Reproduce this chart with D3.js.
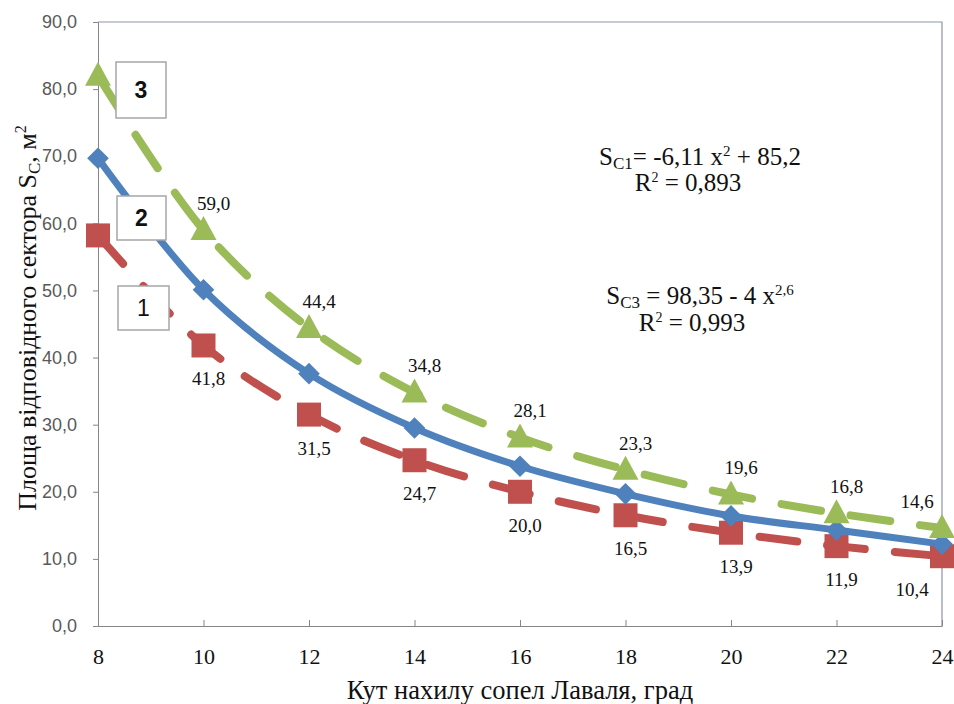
<!DOCTYPE html>
<meta charset="utf-8">
<head>
	<style>
		body { margin: 0; background: #fff; }
		.tick text.ylab { font-family: "Liberation Sans", Arial, sans-serif; font-size: 18px; fill: #595959; }
		.serif { font-family: "Liberation Serif", "Times New Roman", serif; }
	</style>
	<script src="https://cdn.jsdelivr.net/npm/d3@7"></script>
</head>
<body></body>
<script>

	// data
	var angles = [8, 10, 12, 14, 16, 18, 20, 22, 24];
	var series1 = [58.2, 41.8, 31.5, 24.7, 20.0, 16.5, 13.9, 11.9, 10.4];   // red, squares
	var series2 = [69.7, 50.1, 37.6, 29.5, 23.8, 19.7, 16.4, 14.3, 12.2];   // blue, diamonds
	var series3 = [82.0, 59.0, 44.4, 34.8, 28.1, 23.3, 19.6, 16.8, 14.6];   // green, triangles
	var yTicks = [0, 10, 20, 30, 40, 50, 60, 70, 80, 90];
	var xTicks = [8, 10, 12, 14, 16, 18, 20, 22, 24];

	var width = 954,
	    height = 704,
	    margin = {left: 98, right: 12, top: 22, bottom: 78};

	var svg = d3.select("body").append("svg")
		.attr("width", width)
		.attr("height", height);

	var x = d3.scaleLinear().domain([8, 24]).range([margin.left, width - margin.right]);
	var y = d3.scaleLinear().domain([0, 90]).range([height - margin.bottom, margin.top]);

	var fmt = function(v) { return d3.format(".1f")(v).replace(".", ","); };

	// plot border (top + right)
	svg.append("path")
		.attr("d", "M" + x(8) + "," + y(90) + "H" + x(24) + "V" + y(0))
		.attr("fill", "none")
		.attr("stroke", "#8c95a8")
		.attr("stroke-width", 1.2);

	// y axis
	var yAxis = svg.append("g")
		.attr("transform", "translate(" + x(8) + ",0)")
		.call(d3.axisLeft(y).tickValues(yTicks).tickSize(5).tickPadding(16).tickFormat(fmt));
	yAxis.selectAll("line, path").attr("stroke", "#868686");
	yAxis.selectAll("text").attr("class", "ylab").attr("font-size", null).attr("font-family", null);

	// x axis, ticks pointing inward
	var xAxis = svg.append("g")
		.attr("transform", "translate(0," + y(0) + ")")
		.call(d3.axisBottom(x).tickValues(xTicks).tickSizeInner(-6).tickSizeOuter(0).tickPadding(22));
	xAxis.selectAll("line, path").attr("stroke", "#868686");
	xAxis.selectAll("text")
		.attr("class", "serif")
		.attr("font-family", null)
		.attr("font-size", 22)
		.attr("fill", "#111");

	// axis titles
	svg.append("text")
		.attr("class", "serif")
		.attr("x", 520).attr("y", 699)
		.attr("text-anchor", "middle")
		.attr("font-size", 26.5)
		.attr("fill", "#111")
		.text("Кут нахилу сопел Лаваля, град");

	var yt = svg.append("text")
		.attr("class", "serif")
		.attr("transform", "translate(36,318) rotate(-90)")
		.attr("text-anchor", "middle")
		.attr("font-size", 26)
		.attr("fill", "#111");
	yt.append("tspan").text("Площа відповідного сектора S");
	yt.append("tspan").attr("font-size", 17).attr("dy", 4).text("C");
	yt.append("tspan").attr("dy", -4).text(", м");
	yt.append("tspan").attr("font-size", 16).attr("dy", -10).text("2");

	var line = d3.line()
		.x(function(d, i) { return x(angles[i]); })
		.y(function(d) { return y(d); })
		.curve(d3.curveCatmullRom.alpha(0.5));

	// red, series 1
	svg.append("path")
		.datum(series1)
		.attr("d", line)
		.attr("fill", "none")
		.attr("stroke", "#c0504d")
		.attr("stroke-width", 8)
		.attr("stroke-linecap", "round")
		.attr("stroke-dasharray", "38,30");
	svg.append("g").selectAll("rect")
		.data(series1)
	  .enter().append("rect")
		.attr("x", function(d, i) { return x(angles[i]) - 12; })
		.attr("y", function(d) { return y(d) - 12; })
		.attr("width", 24).attr("height", 24)
		.attr("fill", "#c0504d");

	// blue, series 2
	svg.append("path")
		.datum(series2)
		.attr("d", line)
		.attr("fill", "none")
		.attr("stroke", "#4f81bd")
		.attr("stroke-width", 7);
	svg.append("g").selectAll("path")
		.data(series2)
	  .enter().append("path")
		.attr("d", d3.symbol().type(d3.symbolDiamond2).size(300))
		.attr("transform", function(d, i) { return "translate(" + x(angles[i]) + "," + y(d) + ")"; })
		.attr("fill", "#4f81bd");

	// green, series 3
	svg.append("path")
		.datum(series3)
		.attr("d", line)
		.attr("fill", "none")
		.attr("stroke", "#9bbb59")
		.attr("stroke-width", 8)
		.attr("stroke-linecap", "round")
		.attr("stroke-dasharray", "40,30");
	svg.append("g").selectAll("path")
		.data(series3)
	  .enter().append("path")
		.attr("d", "M0,-14L13,10L-13,10Z")
		.attr("transform", function(d, i) { return "translate(" + x(angles[i]) + "," + y(d) + ")"; })
		.attr("fill", "#9bbb59");

	// data labels
	svg.append("g").selectAll("text")
		.data(series1.slice(1))
	  .enter().append("text")
		.attr("class", "serif")
		.attr("x", function(d, i) { var xx = x(angles[i + 1]); return Math.min(xx + 5, x(24) - 30); })
		.attr("y", function(d) { return y(d) + 40; })
		.attr("text-anchor", "middle")
		.attr("font-size", 19)
		.attr("fill", "#111")
		.text(fmt);

	svg.append("g").selectAll("text")
		.data(series3.slice(1))
	  .enter().append("text")
		.attr("class", "serif")
		.attr("x", function(d, i) { var xx = x(angles[i + 1]); return Math.min(xx + 10, x(24) - 25); })
		.attr("y", function(d) { return y(d) - 20; })
		.attr("text-anchor", "middle")
		.attr("font-size", 19)
		.attr("fill", "#111")
		.text(fmt);

	// curve number boxes
	var boxes = [
		{label: "3", x: 116, y: 62, w: 50, h: 56},
		{label: "2", x: 117, y: 196, w: 49, h: 44},
		{label: "1", x: 118, y: 286, w: 51, h: 44}
	];
	var bx = svg.append("g").selectAll("g")
		.data(boxes)
	  .enter().append("g");
	bx.append("rect")
		.attr("x", function(d) { return d.x; })
		.attr("y", function(d) { return d.y; })
		.attr("width", function(d) { return d.w; })
		.attr("height", function(d) { return d.h; })
		.attr("fill", "#fff")
		.attr("stroke", "#a6a6a6")
		.attr("stroke-width", 1.5);
	bx.append("text")
		.attr("x", function(d) { return d.x + d.w / 2; })
		.attr("y", function(d) { return d.y + d.h / 2 + 8; })
		.attr("text-anchor", "middle")
		.attr("font-family", "'Liberation Sans', Arial, sans-serif")
		.attr("font-weight", function(d) { return d.label == "1" ? "normal" : "bold"; })
		.attr("font-size", 23)
		.attr("fill", "#111")
		.text(function(d) { return d.label; });

	// regression equations
	function equation(cx, cy, parts) {
		var t = svg.append("text")
			.attr("class", "serif")
			.attr("x", cx).attr("y", cy)
			.attr("text-anchor", "middle")
			.attr("font-size", 25)
			.attr("fill", "#111");
		parts.forEach(function(p) {
			t.append("tspan")
				.attr("font-size", p.s || null)
				.attr("dy", p.dy || null)
				.text(p.t);
		});
	}
	equation(700, 165, [{t: "S"}, {t: "C1", s: 17, dy: 4}, {t: "= -6,11 x", dy: -4}, {t: "2", s: 15, dy: -9}, {t: " + 85,2", dy: 9}]);
	equation(688, 191, [{t: "R"}, {t: "2", s: 14, dy: -9}, {t: " = 0,893", dy: 9}]);
	equation(700, 304, [{t: "S"}, {t: "C3", s: 17, dy: 4}, {t: " = 98,35 - 4 x", dy: -4}, {t: "2,6", s: 15, dy: -9}]);
	equation(692, 331, [{t: "R"}, {t: "2", s: 14, dy: -9}, {t: " = 0,993", dy: 9}]);

</script>
